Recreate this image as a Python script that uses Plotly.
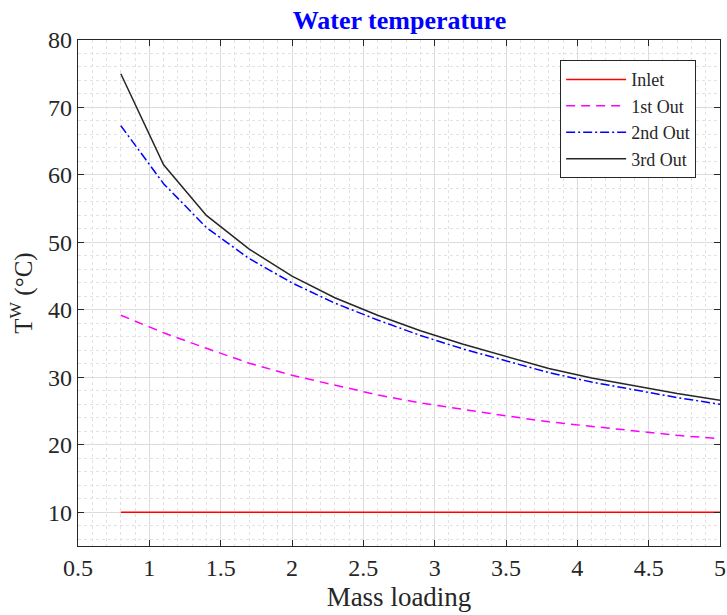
import plotly.graph_objects as go

mass_loading = [0.8, 1.1, 1.4, 1.7, 2.0, 2.3, 2.6, 2.9, 3.2, 3.5, 3.8, 4.1, 4.4, 4.7, 5.0]
inlet = [10.0] * 15
out1 = [39.2, 36.6, 34.3, 32.1, 30.3, 28.8, 27.4, 26.2, 25.2, 24.3, 23.4, 22.7, 22.0, 21.4, 20.9]
out2 = [67.3, 58.7, 52.2, 47.6, 44.0, 41.0, 38.5, 36.2, 34.2, 32.4, 30.7, 29.3, 28.1, 27.0, 26.0]
out3 = [75.0, 61.5, 54.0, 49.0, 45.0, 41.8, 39.2, 36.9, 34.9, 33.1, 31.3, 29.9, 28.7, 27.6, 26.6]

x_ticks = [0.5, 1, 1.5, 2, 2.5, 3, 3.5, 4, 4.5, 5]
x_tick_labels = ["0.5", "1", "1.5", "2", "2.5", "3", "3.5", "4", "4.5", "5"]
y_ticks = [10, 20, 30, 40, 50, 60, 70, 80]

FONT = "Liberation Serif, Times New Roman, serif"

fig = go.Figure()
fig.add_trace(go.Scatter(x=mass_loading, y=inlet, mode="lines", name="Inlet",
                         line=dict(color="#ff0000", width=1.5)))
fig.add_trace(go.Scatter(x=mass_loading, y=out1, mode="lines", name="1st Out",
                         line=dict(color="#ff00ff", width=1.5, dash="9px,6px")))
fig.add_trace(go.Scatter(x=mass_loading, y=out2, mode="lines", name="2nd Out",
                         line=dict(color="#0000ff", width=1.5, dash="9px,3px,2px,3px")))
fig.add_trace(go.Scatter(x=mass_loading, y=out3, mode="lines", name="3rd Out",
                         line=dict(color="#262626", width=1.5)))

axis_common = dict(
    showline=True, linecolor="#262626", linewidth=1.2, mirror="allticks",
    ticks="inside", ticklen=6, tickcolor="#262626",
    showgrid=True, gridcolor="#dcdcdc", gridwidth=1,
    zeroline=False, ticklabeloverflow="allow", automargin=False,
    tickfont=dict(family=FONT, size=24, color="#262626"),
)

fig.update_xaxes(
    range=[0.5, 5], tickvals=x_ticks, ticktext=x_tick_labels,
    minor=dict(dtick=0.1, tick0=0.5, showgrid=True, gridcolor="#e2e2e2",
               griddash="dot", gridwidth=1, ticks=""),
    title=dict(text="Mass loading", font=dict(family=FONT, size=27, color="#262626"),
               standoff=7),
    **axis_common,
)
fig.update_yaxes(
    range=[5, 80], tickvals=y_ticks,
    minor=dict(dtick=2, tick0=0, showgrid=True, gridcolor="#e2e2e2",
               griddash="dot", gridwidth=1, ticks=""),
    title=dict(text="T<sup>W</sup> (°C)", font=dict(family=FONT, size=25, color="#262626"),
               standoff=8),
    **axis_common,
)

fig.update_layout(
    width=727, height=615,
    margin=dict(l=78, r=7, t=40, b=69),
    paper_bgcolor="white", plot_bgcolor="white",
    title=dict(text="<b>Water temperature</b>", x=0.5495, xanchor="center",
               y=1 - 20 / 615, yanchor="middle", yref="container",
               font=dict(family=FONT, size=26, color="#0000ff")),
    legend=dict(x=0.751, y=0.96, xanchor="left", yanchor="top",
                bgcolor="white", bordercolor="#262626", borderwidth=1,
                font=dict(family=FONT, size=18, color="#262626"),
                itemwidth=60, tracegroupgap=0),
    showlegend=True,
)

fig.write_html("out.html",
               config={"displayModeBar": False},
               post_script="document.body.style.margin='0';document.body.style.overflow='hidden';")
